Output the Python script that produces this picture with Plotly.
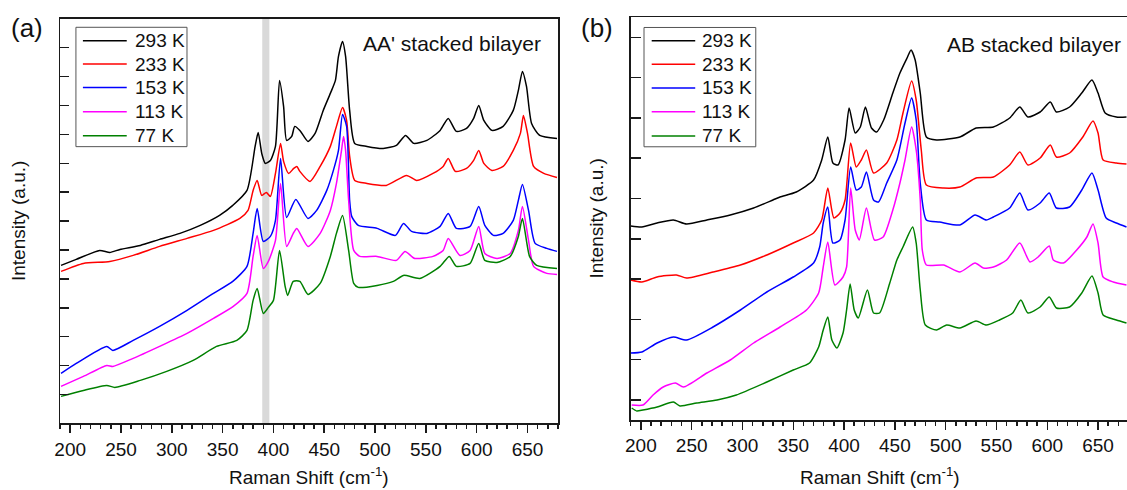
import plotly.graph_objects as go

# ---------------- data : panel (a) AA' stacked bilayer ----------------
temps = ["293 K", "233 K", "153 K", "113 K", "77 K"]
colors = ["#000000", "#ff0000", "#0000ff", "#ff00ff", "#008000"]

a293_x = [191,206,229,239,249,269,288,308,328,347,360,374,382,385,388.5,392,397,402,406,410,413,418,421,426,434,441,449,456,461,464,468,471,475,480,492,508,521,530,538,551,564,572,580,590,597,602,607,615,626,636,641,645,649,654,662,679]
a293_y = [158,164,173,171,174,178,184,190,198,208,218,233,277,291,270,260,263,277,343,317,283,287,297,293,282,290,313,330,343,367,382,367,313,280,277,275,278,288,280,283,293,305,292,295,305,318,303,293,297,313,333,352,337,300,288,285]

a233_x = [191,213,239,262,288,315,341,367,375,380,384,388.5,393,397,402,407,410,415,420,423,426,436,446,456,462,468,472,475,480,492,511,531,541,557,567,572,579,590,597,602,607,615,626,636,643,646,650,656,666,679]
a233_y = [152,160,162,168,177,185,193,205,213,233,243,228,231,227,250,280,262,250,255,257,252,242,257,277,297,316,303,267,243,240,238,248,243,250,257,265,252,255,263,273,260,253,257,273,290,308,290,257,250,246]

a153_x = [191,206,236,242,262,288,315,341,360,374,380,384,390,397,402,407,413,422,434,442.5,452.5,459,464,468,472,475,477,483.5,502,520,528,536,551,564,572,580,593.5,602,608,616.5,626,636,641,645,651,657.5,669,679]
a153_y = [50,60,77,73,83,97,113,130,142,157,190,215,182,187,203,265,206,224,205,213,233,253,273,309,297,223,207,198,195,188,200,192,190,197,210,195,197,217,198,188,190,203,223,239,213,180,175,172]

a113_x = [191,213,236,242,262,288,315,341,360.5,374,380,384,390,395,402,407,413,419.5,423,434,446,456,462,467,469,471,474,479,485,502,521,529.5,539,557,567,572,583.5,593.5,602,608,620,633,641,645,651,656,669,679]
a113_y = [37,47,58,57,65,77,90,105,117,130,167,188,155,162,183,240,177,190,195,177,190,213,240,273,287,273,223,173,167,167,163,172,165,167,173,185,168,173,197,170,165,170,193,217,183,157,150,149]

a77_x = [191,213,236,244,269,295,321,344,364,374,380,384,390,395,400,406,411.5,414,419.5,426,434,446,456,462,468,474,479,483.5,502,518,528,544,564,573,580,593.5,602,608,620,633,641,645,652,659,679]
a77_y = [27,33,38,36,43,52,63,77,83,93,123,135,110,116,123,173,137,128,142,142,129,140,167,190,208,173,140,136,138,142,148,145,157,167,157,160,180,163,161,167,187,205,167,158,155]

# ---------------- data : panel (b) AB stacked bilayer ----------------
b293_x = [190,201,216,232,245,265,288,311,330,337,353,370,378,384,389,394,401,405,411,416,421,427,432,439,448,455,462,466,470,475,481,491,514,530,547,563,573,581,593,603,609,622,634,644,650,657,668,678]
b293_y = [194,193,197,200,196,200,205,212,220,223,228,240,260,283,257,255,280,312,287,293,313,292,288,300,327,347,362,370,360,327,283,280,283,292,293,302,313,303,308,318,308,313,327,340,327,307,303,303]

b233_x = [190,201,216,235,245,271,298,324,350,370,378,384,390,396,401,406.5,412,417,422,429,442,452,458,466.5,471,476,481,498,514,530,547,563,573,581,593,603,609,622,635,645,650,655,668,678]
b233_y = [140,138,143,145,142,148,155,165,177,187,200,232,202,207,220,277,253,260,270,247,257,280,307,339,320,270,235,232,233,242,243,255,268,255,262,275,263,267,283,299,287,260,257,256]

b153_x = [190,201,216,232,245,271,298,324,350,370,376,379.5,384,389,396,401,406.5,412,417,422,429,434,442,452,460,466.5,471,475,481,494,514,529,540,547,563,573,581,593,602,609,622,634,644,650,658,668,678]
b153_y = [67,68,77,83,80,93,110,128,143,157,173,197,213,177,180,200,253,230,233,248,220,218,237,260,297,322,300,237,200,198,195,205,200,203,212,227,210,217,227,212,213,230,247,230,202,197,193]

b113_x = [191,202,212,222,234,242,265,288,311,337,363,375,379.5,384,391,399,402.5,406.5,411,415,422,430,438.5,448,455,460,466.5,471,475,477,481,498,514,529,537,547,560,573,583,591,602,606,616,629,639,645,650,655,665,678]
b113_y = [15,15,25,33,37,33,47,60,77,93,110,127,153,178,135,143,153,232,190,180,212,180,183,210,237,260,293,270,220,170,155,155,148,157,152,153,160,177,158,163,174,160,157,170,183,196,177,143,138,135]

b77_x = [191,196,202,216,232,238.5,255,275,294,324,350,366,375,379.5,384,388,393,399,402.5,406,410,414,423,429,435,445,452,458,467.5,471,475,480,491,501,514,530,540,553,566,574,581,593,602,609,622,634,644,650,655,668,678]
b77_y = [12,9,10,13,18,14,17,20,25,38,50,57,73,90,103,80,72,87,110,136,110,102,130,107,107,137,160,173,193,177,130,95,90,95,92,99,95,100,107,120,107,113,123,112,113,127,144,127,105,100,97]

x_ticks = [200, 250, 300, 350, 400, 450, 500, 550, 600, 650]
band_a = [389, 396]

panel_a = [(a293_x, a293_y), (a233_x, a233_y), (a153_x, a153_y), (a113_x, a113_y), (a77_x, a77_y)]
panel_b = [(b293_x, b293_y), (b233_x, b233_y), (b153_x, b153_y), (b113_x, b113_y), (b77_x, b77_y)]

W, H = 1127, 490
FONT = "Arial, 'Liberation Sans', sans-serif"
AX = "#1a1a1a"

fig = go.Figure()
for (xs, ys), name, c in zip(panel_a, temps, colors):
    fig.add_trace(go.Scatter(x=xs, y=ys, mode="lines", name=name, xaxis="x", yaxis="y",
                             line=dict(color=c, width=1.5, shape="spline", smoothing=0.6),
                             showlegend=False, hoverinfo="skip"))
for (xs, ys), name, c in zip(panel_b, temps, colors):
    fig.add_trace(go.Scatter(x=xs, y=ys, mode="lines", name=name, xaxis="x2", yaxis="y2",
                             line=dict(color=c, width=1.5, shape="spline", smoothing=0.6),
                             showlegend=False, hoverinfo="skip"))

xcommon = dict(tickvals=x_ticks, ticks="outside", ticklen=8, tickwidth=1.5, tickcolor=AX,
               minor=dict(tick0=190, dtick=10, ticks="outside", ticklen=4, tickwidth=1.5, tickcolor=AX),
               showline=True, linecolor=AX, linewidth=1.5, mirror=True,
               showgrid=False, zeroline=False, tickfont=dict(family=FONT, size=19, color="#111"),
               automargin=False, fixedrange=True)
ycommon = dict(ticks="inside", tickwidth=1.5, tickcolor=AX, showticklabels=False,
               showline=True, linecolor=AX, linewidth=1.5,
               showgrid=False, zeroline=False, automargin=False, fixedrange=True)

ya_dom = [(H - 423.4) / H, (H - 18.8) / H]
yb_dom = [(H - 420) / H, (H - 17) / H]
fig.update_layout(
    width=W, height=H, margin=dict(l=0, r=0, t=0, b=0),
    paper_bgcolor="white", plot_bgcolor="white", hovermode=False,
    xaxis=dict(domain=[60 / W, 558 / W], range=[190, 680], anchor="y", **xcommon),
    yaxis=dict(domain=ya_dom, range=[0, 404.6], tick0=0, dtick=28.9, ticklen=9, mirror=True, anchor="x", **ycommon),
    xaxis2=dict(domain=[630.7 / W, 1.0], range=[190, 678.5], anchor="y2", **xcommon),
    yaxis2=dict(domain=yb_dom, range=[0, 403], tick0=20, dtick=40.3, ticklen=10, mirror=False, anchor="x2", **ycommon),
    showlegend=False,
)

# grey band in panel (a)
fig.add_shape(type="rect", xref="x", yref="y domain", x0=band_a[0], x1=band_a[1], y0=0, y1=1,
              fillcolor="#d9d9d9", line=dict(width=0), layer="below")

# manual legends
def legend(xref, yref, box, line_x, text_x, rows):
    fig.add_shape(type="rect", xref=xref, yref=yref, x0=box[0], x1=box[1], y0=box[2], y1=box[3],
                  line=dict(color="#555", width=1), fillcolor="white", layer="above")
    for name, c, yy in zip(temps, colors, rows):
        fig.add_shape(type="line", xref=xref, yref=yref, x0=line_x[0], x1=line_x[1], y0=yy, y1=yy,
                      line=dict(color=c, width=1.5), layer="above")
        fig.add_annotation(xref=xref, yref=yref, x=text_x, y=yy, text=name, showarrow=False,
                           xanchor="left", yanchor="middle", font=dict(family=FONT, size=19, color="#111"))

legend("x domain", "y domain", [0.032, 0.255, 0.684, 0.979], [0.046, 0.134], 0.146,
       [0.946, 0.888, 0.830, 0.770, 0.711])
legend("x2 domain", "y2 domain", [0.0268, 0.252, 0.678, 0.974], [0.0423, 0.130], 0.1396,
       [0.941, 0.883, 0.824, 0.765, 0.705])

def ann(x, y, text, size, **kw):
    fig.add_annotation(xref="paper", yref="paper", x=x / W, y=(H - y) / H, text=text, showarrow=False,
                       font=dict(family=FONT, size=size, color="#111"), **kw)

ann(543, 43, "AA' stacked bilayer", 21, xanchor="right", yanchor="middle")
ann(1123, 45, "AB stacked bilayer", 21, xanchor="right", yanchor="middle")
ann(27, 28, "(a)", 26, xanchor="center", yanchor="middle")
ann(597, 28, "(b)", 26, xanchor="center", yanchor="middle")
ann(309, 476, "Raman Shift (cm<sup>-1</sup>)", 19, xanchor="center", yanchor="middle")
ann(879.5, 476, "Raman Shift (cm<sup>-1</sup>)", 19, xanchor="center", yanchor="middle")
ann(19, 221, "Intensity (a.u.)", 19, xanchor="center", yanchor="middle", textangle=-90)
ann(596, 218.5, "Intensity (a.u.)", 19, xanchor="center", yanchor="middle", textangle=-90)

fig.write_html("out.html", config={"displayModeBar": False, "staticPlot": True},
               post_script="document.body.style.margin='0';document.body.style.overflow='hidden';")
